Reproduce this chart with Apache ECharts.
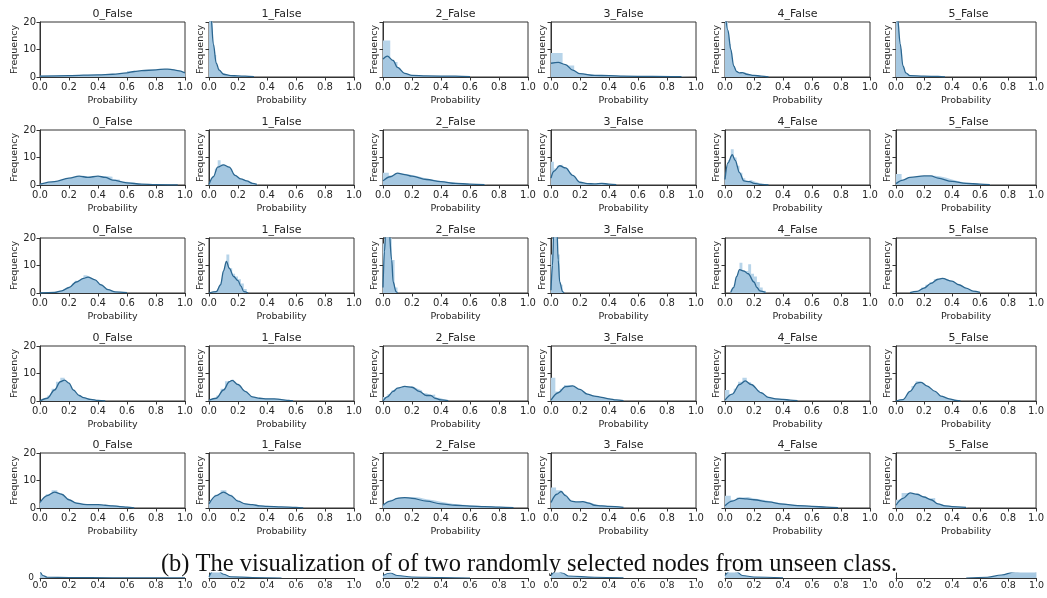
<!DOCTYPE html>
<html>
<head>
<meta charset="utf-8">
<script src="https://cdn.jsdelivr.net/npm/echarts@6/dist/echarts.min.js"></script>
<style>
html, body { margin: 0; padding: 0; background: #fff; }
#main { width: 1047px; height: 598px; }
</style>
</head>
<body>
<div id="main"></div>
<script>
// subplot titles and ticks
var titles = ['0_False', '1_False', '2_False', '3_False', '4_False', '5_False'];
var xTicks = [0, 0.2, 0.4, 0.6, 0.8, 1.0];
var yTicks = [0, 10, 20];
var caption = '(b) The visualization of of two randomly selected nodes from unseen class.';

// KDE curves, one row of six subplots per array ([probability, frequency])
var kdeRow1 = [
  [[0,0.3],[0.2,0.5],[0.4,0.8],[0.5,1.0],[0.6,1.5],[0.65,2.0],[0.7,2.3],[0.8,2.6],[0.86,2.9],[0.9,2.8],[0.95,2.3],[1.0,1.5]],
  [[0,26],[0.015,21],[0.03,12],[0.05,5],[0.07,2.5],[0.1,1.0],[0.15,0.5],[0.2,0.4],[0.25,0.3],[0.31,0.1]],
  [[0,6.5],[0.03,7.6],[0.07,6],[0.1,3.5],[0.15,1.3],[0.2,0.6],[0.3,0.4],[0.5,0.3],[0.6,0.1]],
  [[0,5],[0.05,5.3],[0.1,4.5],[0.15,2.5],[0.2,1.2],[0.3,0.6],[0.4,0.5],[0.5,0.3],[0.7,0.2],[0.9,0.1]],
  [[0,24],[0.02,17],[0.04,10],[0.06,4],[0.08,2],[0.1,1.5],[0.12,1.6],[0.15,1.0],[0.2,0.6],[0.25,0.3],[0.3,0.05]],
  [[0,25],[0.012,21],[0.03,12],[0.05,4],[0.07,1.5],[0.1,0.5],[0.2,0.3],[0.3,0.2],[0.35,0.05]]
];
var kdeRow2 = [
  [[0,0.3],[0.1,1.2],[0.2,2.5],[0.27,3.2],[0.33,2.8],[0.4,3.2],[0.45,2.8],[0.5,1.8],[0.6,0.8],[0.7,0.3],[0.8,0.15],[0.95,0.05]],
  [[0,0.2],[0.03,3],[0.06,6.5],[0.1,7.3],[0.14,6.5],[0.18,3.5],[0.22,2.2],[0.26,1.5],[0.3,0.6],[0.33,0.2]],
  [[0,1.5],[0.05,3],[0.1,4.3],[0.15,3.8],[0.2,3.2],[0.3,2.0],[0.4,1.2],[0.5,0.6],[0.6,0.3],[0.7,0.1]],
  [[0,2.5],[0.02,5],[0.06,7],[0.1,6.2],[0.15,3.5],[0.2,1.0],[0.25,0.5],[0.3,0.4],[0.35,0.6],[0.4,0.3],[0.45,0.1]],
  [[0,2],[0.02,8],[0.05,11],[0.07,9],[0.1,4.5],[0.13,1.5],[0.17,1.2],[0.2,0.6],[0.25,0.2],[0.3,0.05]],
  [[0,0.5],[0.05,1.8],[0.1,2.8],[0.2,3.3],[0.25,3.3],[0.3,2.5],[0.4,1.3],[0.5,0.6],[0.6,0.3],[0.67,0.1]]
];
var kdeRow3 = [
  [[0,0],[0.1,0.2],[0.15,0.8],[0.2,2.0],[0.25,4.0],[0.3,5.3],[0.33,5.8],[0.38,4.8],[0.42,3],[0.47,1.2],[0.52,0.4],[0.6,0.1]],
  [[0,0],[0.05,0.5],[0.08,3],[0.1,8],[0.12,11.5],[0.14,9],[0.17,6],[0.2,4.5],[0.22,2.5],[0.24,0.5],[0.27,0]],
  [[0,2],[0.01,15],[0.02,24],[0.04,24],[0.06,12],[0.07,4],[0.09,0.5],[0.1,0]],
  [[0,1],[0.01,10],[0.02,24],[0.04,24],[0.05,12],[0.06,4],[0.08,0.5],[0.09,0]],
  [[0.04,0.3],[0.06,2],[0.08,6],[0.1,8.5],[0.13,8],[0.16,7],[0.2,4],[0.22,2],[0.24,0.8],[0.28,0.2]],
  [[0.1,0.1],[0.15,0.6],[0.2,1.8],[0.25,3.5],[0.3,5],[0.33,5.3],[0.4,4.3],[0.45,3],[0.5,1.8],[0.55,0.7],[0.6,0.2]]
];
var kdeRow4 = [
  [[0,0],[0.05,1],[0.1,4],[0.14,7],[0.17,7.6],[0.2,6.5],[0.23,4],[0.27,2],[0.3,1.2],[0.35,0.6],[0.4,0.2],[0.45,0]],
  [[0,0.3],[0.05,1],[0.1,4],[0.14,7],[0.16,7.5],[0.2,6],[0.25,3.5],[0.3,1.5],[0.35,1],[0.4,0.8],[0.45,0.8],[0.5,0.5],[0.55,0.2],[0.58,0]],
  [[0,0],[0.03,1.5],[0.07,3.5],[0.1,4.7],[0.15,5.3],[0.2,5],[0.25,3.5],[0.3,2],[0.33,2.0],[0.36,1],[0.4,0.4],[0.45,0.1]],
  [[0,0.3],[0.05,3],[0.1,5.2],[0.15,5.5],[0.2,4.2],[0.25,2.5],[0.3,1.8],[0.35,1.3],[0.4,0.8],[0.45,0.4],[0.5,0.1]],
  [[0,0.3],[0.05,2.5],[0.1,6],[0.14,7.3],[0.18,6],[0.25,3],[0.3,1.3],[0.35,0.8],[0.4,0.6],[0.45,0.3],[0.5,0.1]],
  [[0,0],[0.05,0.5],[0.1,3.5],[0.15,6.5],[0.18,6.8],[0.22,5.5],[0.28,3.5],[0.32,1.8],[0.38,0.8],[0.43,0.2],[0.46,0]]
];
var kdeRow5 = [
  [[0,2],[0.05,4.5],[0.1,5.8],[0.15,5],[0.2,3],[0.25,1.8],[0.3,1.3],[0.35,1.2],[0.4,1.2],[0.45,1],[0.5,0.8],[0.55,0.5],[0.6,0.3],[0.65,0]],
  [[0,1.5],[0.05,4.5],[0.1,5.8],[0.15,4.5],[0.2,2.5],[0.25,1.5],[0.3,1.2],[0.35,0.8],[0.4,0.6],[0.5,0.4],[0.6,0.2],[0.65,0]],
  [[0,1],[0.05,2.5],[0.1,3.5],[0.15,3.8],[0.2,3.5],[0.3,2.5],[0.4,1.5],[0.5,1.0],[0.6,0.7],[0.7,0.5],[0.8,0.3],[0.9,0.1]],
  [[0,2],[0.04,5],[0.07,6],[0.1,4.5],[0.14,2.5],[0.18,2.2],[0.22,2.3],[0.26,1.8],[0.3,1.0],[0.35,0.8],[0.4,0.6],[0.5,0.2]],
  [[0,0.8],[0.05,2.5],[0.1,3.5],[0.15,3.3],[0.2,3],[0.3,2.2],[0.4,1.4],[0.5,0.9],[0.6,0.6],[0.7,0.3],[0.78,0.1]],
  [[0,1],[0.05,3.5],[0.1,5.5],[0.15,5],[0.2,4],[0.25,3],[0.3,1.5],[0.35,0.8],[0.4,0.5],[0.5,0.2]]
];
// partly cropped row below the caption
var kdeStrip = [
  [[0,3],[0.02,1],[0.05,0.3],[0.2,0.2],[0.5,0.1],[0.8,0.1],[1.0,0.1]],
  [[0,0.5],[0.03,3],[0.06,3],[0.1,1.5],[0.15,0.5],[0.3,0.2],[0.5,0]],
  [[0,1],[0.05,2],[0.1,1],[0.2,0.4],[0.4,0.2],[0.6,0]],
  [[0,1],[0.04,3],[0.08,2],[0.12,0.8],[0.3,0.3],[0.5,0.1]],
  [[0,1],[0.04,3],[0.08,2.5],[0.12,1],[0.2,0.4],[0.4,0.1]],
  [[0.5,0],[0.65,0.3],[0.75,1.2],[0.85,2.5],[0.95,3],[1.0,2.5]]
];

// histograms: first bin edge, bin width, bin heights
var histRow1 = [
  {x0: 0, w: 0.1, h: [0.5,0.6,0.7,0.8,1.0,1.2,2.2,2.4,2.7,1.8]},
  {x0: 0, w: 0.025, h: [22,8,3,1.5,0.8,0.6,0.5,0.4,0.4,0.3,0.3,0.2]},
  {x0: 0, w: 0.05, h: [13.3,5.5,1.5,0.5,0.4,0.3,0.3,0.3,0.3,0.3,0.2,0.2]},
  {x0: 0, w: 0.08, h: [8.7,4.2,1.2,0.6,0.5,0.5,0.3,0.3,0.2,0.2,0.2,0.1]},
  {x0: 0, w: 0.02, h: [24,12,4,2,1.5,1.5,1.6,1.2,0.8,0.6,0.5,0.4,0.3,0.2]},
  {x0: 0, w: 0.02, h: [24,10,3,1,0.5,0.4,0.3,0.3,0.3,0.3,0.3,0.3,0.2,0.2,0.2,0.2,0.1]}
];
var histRow2 = [
  {x0: 0, w: 0.05, h: [0.3,0.6,1.2,2,2.7,3.4,3.0,2.6,3.3,3.0,2.0,1.2,0.8,0.4,0.3,0.2,0.1,0.1,0.05]},
  {x0: 0, w: 0.02, h: [0.5,2.5,6,9,7.5,7,6.5,5.8,4,3,2.3,2,1.6,1.2,0.7,0.4,0.2]},
  {x0: 0, w: 0.04, h: [4.5,3.5,4.3,4.0,3.6,3.2,2.6,2.2,1.8,1.5,1.2,1.0,0.7,0.5,0.4,0.3,0.2,0.1]},
  {x0: 0, w: 0.02, h: [8.5,6,7,7.5,6.5,6,4.5,3.5,2,1.2,0.8,0.5,0.4,0.4,0.4,0.4,0.6,0.6,0.4,0.3,0.2,0.1]},
  {x0: 0, w: 0.02, h: [4,9,13,10,7,4.5,2.5,1.5,1.8,1.4,1.0,0.6,0.4,0.2]},
  {x0: 0, w: 0.04, h: [4,1.5,2.5,3,3.2,3.3,3.4,3.1,2.6,2.0,1.5,1.0,0.8,0.6,0.4,0.3,0.2]}
];
var histRow3 = [
  {x0: 0.16, w: 0.02, h: [1.5,2,2.5,3.5,4.5,4.8,5.5,6.5,6,5,4,3,2,1.5,1]},
  {x0: 0.06, w: 0.02, h: [1,4,8,14,9,7,6,5,3.5,1.5]},
  {x0: 0, w: 0.02, h: [18,24,24,12,2]},
  {x0: 0, w: 0.02, h: [14,24,14,3]},
  {x0: 0.06, w: 0.02, h: [3,6,11,8,8,10.5,7,6,4,2,0.8]},
  {x0: 0.18, w: 0.03, h: [2,3,4,5,5.5,5.2,4.5,3.8,3,2.2]}
];
var histRow4 = [
  {x0: 0.02, w: 0.03, h: [0.8,2,4.5,7,8.5,6.5,4,2.5,1.5,1,0.5]},
  {x0: 0.02, w: 0.03, h: [0.8,2,4.5,7.2,7.8,6,4.5,3,1.8,1.2,1,0.9,0.8,0.8,0.7,0.6,0.4,0.2]},
  {x0: 0, w: 0.03, h: [1.5,2.5,4,4.8,5.2,5.4,5.2,4.5,3.8,2.8,2.2,2.4,1.2,0.6,0.3]},
  {x0: 0, w: 0.03, h: [8.5,3.5,4.5,5.8,5.8,5,4,3,2.3,1.8,1.5,1.3,1.0,0.7,0.5,0.3]},
  {x0: 0, w: 0.03, h: [4,2.5,4.5,7,8.5,6.8,5,3.8,2.5,1.4,0.9,0.8,0.8,0.5,0.4,0.2]},
  {x0: 0.02, w: 0.03, h: [0.3,1,3,5.5,7.2,6.5,5.2,4,3.2,2,1,0.6,0.3,0.1]}
];
var histRow5 = [
  {x0: 0, w: 0.04, h: [2.5,5,6.5,5,3.5,2.2,1.8,1.4,1.3,1.2,1.1,1.0,0.9,0.7,0.5,0.3]},
  {x0: 0, w: 0.04, h: [2.5,4.8,6.5,4.8,3,1.8,1.4,1.2,0.9,0.8,0.6,0.5,0.4,0.3,0.3,0.2]},
  {x0: 0, w: 0.05, h: [1.5,3,3.8,4.0,3.8,3.2,2.8,2.3,1.8,1.4,1.2,1.0,0.8,0.7,0.6,0.5,0.4,0.3]},
  {x0: 0, w: 0.035, h: [7.5,6.5,5,3,2.2,2.5,2.3,1.8,1.2,1.0,0.8,0.6,0.5,0.3]},
  {x0: 0, w: 0.04, h: [4.5,3,3.8,4,3.5,3.2,2.8,2.4,2,1.7,1.4,1.2,1.0,0.8,0.7,0.6,0.5,0.4,0.3,0.2]},
  {x0: 0, w: 0.04, h: [3,5.5,5.5,4.5,4,3.5,3.6,1.5,0.9,0.6,0.4,0.3,0.2]}
];

var kdeRows = [kdeRow1, kdeRow2, kdeRow3, kdeRow4, kdeRow5];
var histRows = [histRow1, histRow2, histRow3, histRow4, histRow5];

// layout
var colLeft = [40, 209, 383, 551, 725, 896];
var colW = 145;
var rowTop = [22, 130, 238, 346, 453];
var rowH = 55;
var font = 'DejaVu Sans';
var textColor = '#262626';
var histColor = '#b7d4e9';
var kdeFill = '#a6c8e1';
var kdeLine = '#2b6690';

function histData(hist) {
  var d = [];
  for (var i = 0; i < hist.h.length; i++) {
    d.push([hist.x0 + i * hist.w, hist.h[i]]);
  }
  d.push([hist.x0 + hist.h.length * hist.w, 0]);
  return d;
}

var grids = [], xAxes = [], yAxes = [], series = [], graphics = [];

function xAxisFor(idx, withName) {
  return {
    type: 'value', gridIndex: idx, min: 0, max: 1, interval: 0.2,
    axisLine: { show: true, onZero: false, lineStyle: { color: '#333', width: 1 } },
    axisTick: { show: true, length: 3.5, lineStyle: { color: '#333' } },
    axisLabel: {
      fontFamily: font, fontSize: 10, color: textColor, margin: 5,
      formatter: function (v) { return v.toFixed(1); }
    },
    splitLine: { show: false },
    name: withName ? 'Probability' : '',
    nameLocation: 'middle', nameGap: 19,
    nameTextStyle: { fontFamily: font, fontSize: 9.5, color: textColor }
  };
}

for (var r = 0; r < 5; r++) {
  for (var c = 0; c < 6; c++) {
    var idx = grids.length;
    grids.push({
      left: colLeft[c], top: rowTop[r], width: colW, height: rowH,
      show: true, borderColor: '#333', borderWidth: 1, backgroundColor: 'transparent'
    });
    xAxes.push(xAxisFor(idx, true));
    yAxes.push({
      type: 'value', gridIndex: idx, min: 0, max: 20, interval: 10,
      axisLine: { show: true, lineStyle: { color: '#333', width: 1 } },
      axisTick: { show: true, length: 3.5, lineStyle: { color: '#333' } },
      axisLabel: { show: c === 0, fontFamily: font, fontSize: 10, color: textColor, margin: 4 },
      splitLine: { show: false },
      name: 'Frequency', nameLocation: 'middle', nameRotate: 90,
      nameGap: c === 0 ? 20 : 3,
      nameTextStyle: { fontFamily: font, fontSize: 9.5, color: textColor }
    });
    series.push({
      type: 'line', xAxisIndex: idx, yAxisIndex: idx, step: 'end',
      data: histData(histRows[r][c]), symbol: 'none', silent: true,
      lineStyle: { width: 0 }, areaStyle: { color: histColor, opacity: 1 }, z: 2
    });
    series.push({
      type: 'line', xAxisIndex: idx, yAxisIndex: idx,
      data: kdeRows[r][c], symbol: 'none', silent: true,
      smooth: 0.35, smoothMonotone: 'x',
      lineStyle: { color: kdeLine, width: 1.3 },
      areaStyle: { color: kdeFill, opacity: 1 }, z: 3
    });
    graphics.push({
      type: 'text', x: colLeft[c] + colW / 2, y: rowTop[r] - 8,
      style: { text: titles[c], align: 'center', verticalAlign: 'middle',
        font: '11px "DejaVu Sans"', fill: textColor }
    });
  }
}

// cropped bottom row (only its lower edge shows)
for (var c2 = 0; c2 < 6; c2++) {
  var sIdx = grids.length;
  grids.push({ left: colLeft[c2], top: 573, width: colW, height: 5 });
  var xa = xAxisFor(sIdx, false);
  xa.axisLabel.fontSize = 9.5;
  xa.axisLabel.margin = 3;
  xAxes.push(xa);
  yAxes.push({
    type: 'value', gridIndex: sIdx, min: 0, max: 2, interval: 2,
    axisLine: { show: true, lineStyle: { color: '#333', width: 1 } },
    axisTick: { show: false },
    axisLabel: {
      show: c2 === 0, fontFamily: font, fontSize: 9, color: textColor, margin: 6,
      formatter: function (v) { return v === 0 ? '0' : ''; }
    },
    splitLine: { show: false }
  });
  series.push({
    type: 'line', xAxisIndex: sIdx, yAxisIndex: sIdx,
    data: kdeStrip[c2], symbol: 'none', silent: true,
    smooth: 0.35, smoothMonotone: 'x',
    lineStyle: { color: kdeLine, width: 1.2 },
    areaStyle: { color: kdeFill, opacity: 1 }
  });
}

graphics.push({
  type: 'text', x: 529, y: 565,
  style: { text: caption, align: 'center', verticalAlign: 'middle',
    font: '24.5px "Liberation Serif"', fill: '#111' }
});

var chart = echarts.init(document.getElementById('main'), null, { renderer: 'canvas' });
chart.setOption({
  animation: false,
  backgroundColor: '#fff',
  grid: grids,
  xAxis: xAxes,
  yAxis: yAxes,
  series: series,
  graphic: graphics
});
</script>
</body>
</html>
